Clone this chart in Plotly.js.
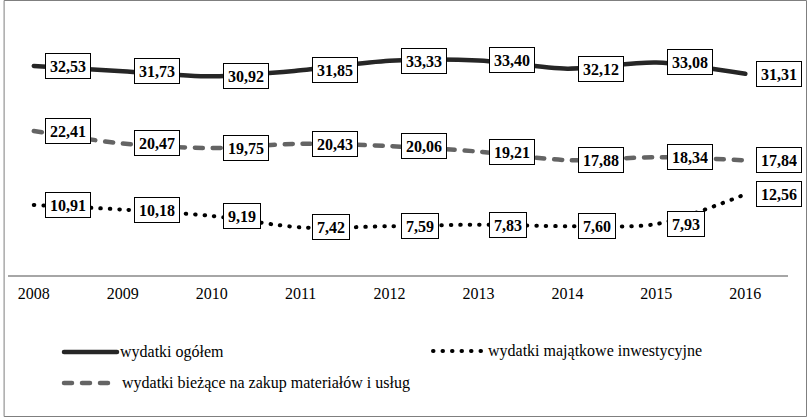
<!DOCTYPE html>
<html>
<head>
<meta charset="utf-8">
<script src="https://cdn.plot.ly/plotly-3.0.1.min.js"></script>
<style>
  html, body { margin: 0; padding: 0; background: #fff; }
  #chart { width: 811px; height: 417px; }
  #chart .scatterlayer path.js-line, #chart .shapelayer path { stroke-linecap: round; }
</style>
</head>
<body>
<div id="chart"></div>
<script>
// ---- data ----
const years = ["2008", "2009", "2010", "2011", "2012", "2013", "2014", "2015", "2016"];
const wydatkiOgolem = [32.53, 31.73, 30.92, 31.85, 33.33, 33.40, 32.12, 33.08, 31.31];
const wydatkiBiezace = [22.41, 20.47, 19.75, 20.43, 20.06, 19.21, 17.88, 18.34, 17.84];
const wydatkiMajatkowe = [10.91, 10.18, 9.19, 7.42, 7.59, 7.83, 7.60, 7.93, 12.56];
const seriesNames = ["wydatki ogółem", "wydatki bieżące na zakup materiałów i usług", "wydatki majątkowe inwestycyjne"];

// ---- layout geometry (px) ----
const W = 811, H = 417;
const L = 8, R = 23, T = 18, B = 142;
const plotW = W - L - R, plotH = H - T - B;
const px2x = p => (p - L) / plotW;
const px2y = p => (H - B - p) / plotH;

const serif = "Liberation Serif, Times New Roman, serif";

const styles = [
  { color: "#262626", width: 4.5, dash: "solid" },
  { color: "#646464", width: 4.5, dash: "8px,10px" },
  { color: "#000000", width: 4, dash: "0.5px,9px" }
];
const seriesData = [wydatkiOgolem, wydatkiBiezace, wydatkiMajatkowe];

const traces = seriesData.map((arr, k) => ({
  x: years, y: arr, name: seriesNames[k], type: "scatter", mode: "lines",
  line: { color: styles[k].color, width: styles[k].width, dash: styles[k].dash, shape: "spline", smoothing: 0.8 },
  hoverinfo: "skip"
}));

const fmt = v => v.toFixed(2).replace(".", ",");
const annotations = [];
seriesData.forEach(arr => {
  arr.forEach((v, i) => {
    annotations.push({
      x: i, y: v, xref: "x", yref: "y",
      text: "<b>" + fmt(v) + "</b>", showarrow: false,
      xanchor: "left", yanchor: "middle", xshift: 11,
      height: 16,
      bgcolor: "#ffffff", bordercolor: "#000000", borderwidth: 1, borderpad: 4,
      font: { family: serif, size: 16, color: "#000000" }
    });
  });
});

// ---- custom legend (two columns, as in the reference) ----
const legendSlots = [
  { k: 0, x0: 64, x1: 117, tx: 119, y: 352 },
  { k: 2, x0: 433, x1: 484, tx: 487, y: 351 },
  { k: 1, x0: 64, x1: 117, tx: 121, y: 383 }
];
const shapes = [
  { type: "rect", xref: "paper", yref: "paper",
    x0: px2x(4.5), x1: px2x(806.5), y0: px2y(416.5), y1: px2y(0.5),
    line: { color: "#7f7f7f", width: 1 }, fillcolor: "rgba(0,0,0,0)", layer: "below" }
];
legendSlots.forEach(s => {
  const st = styles[s.k];
  shapes.push({
    type: "line", xref: "paper", yref: "paper",
    x0: px2x(s.x0), x1: px2x(s.x1), y0: px2y(s.y), y1: px2y(s.y),
    line: { color: st.color, width: st.width, dash: st.dash }
  });
  annotations.push({
    xref: "paper", yref: "paper", x: px2x(s.tx), y: px2y(s.y),
    xanchor: "left", yanchor: "middle", showarrow: false, borderpad: 0,
    text: seriesNames[s.k], font: { family: serif, size: 16, color: "#000000" }
  });
});

const layout = {
  width: W, height: H,
  margin: { l: L, r: R, t: T, b: B },
  paper_bgcolor: "#ffffff", plot_bgcolor: "#ffffff",
  showlegend: false,
  xaxis: {
    type: "category", range: [-0.29, 8.48],
    showgrid: false, zeroline: false,
    showline: true, linecolor: "#a6a6a6", linewidth: 1.5,
    ticks: "outside", ticklen: 3, tickcolor: "rgba(0,0,0,0)",
    tickfont: { family: serif, size: 16, color: "#000000" },
    fixedrange: true
  },
  yaxis: {
    range: [0, 40], showticklabels: false, ticks: "", showgrid: false,
    zeroline: false, showline: false, fixedrange: true
  },
  annotations: annotations,
  shapes: shapes
};

Plotly.newPlot("chart", traces, layout, { staticPlot: true, displayModeBar: false });
</script>
</body>
</html>
